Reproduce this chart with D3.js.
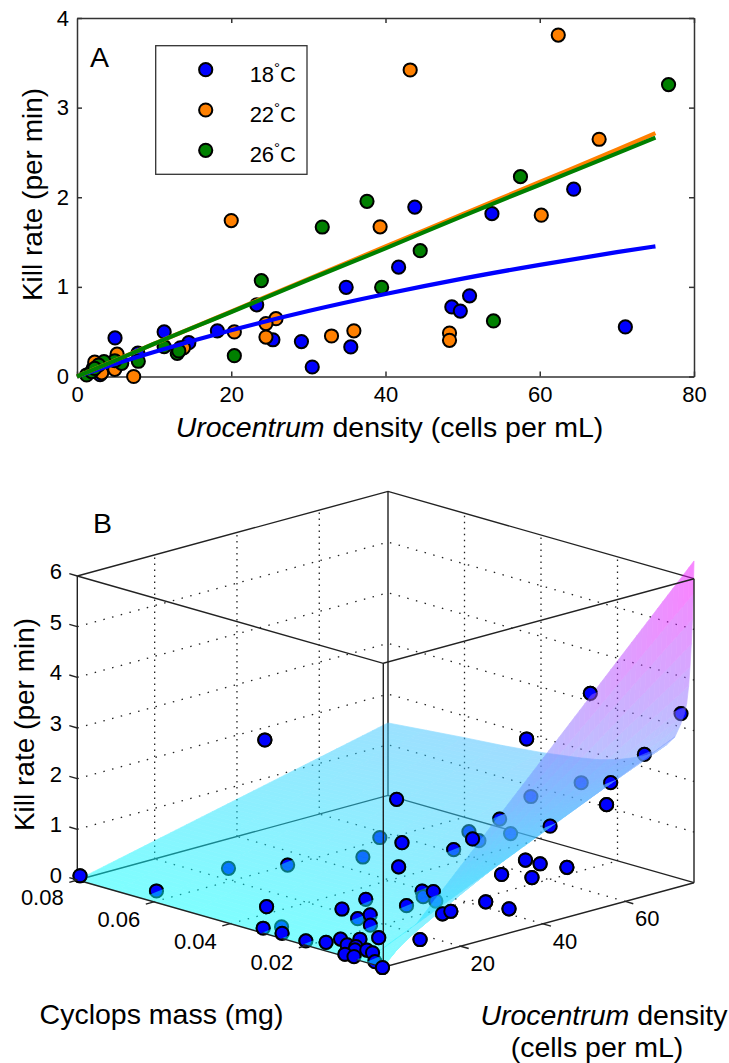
<!DOCTYPE html>
<html lang="en">
<head>
<meta charset="UTF-8">
<title>Kill rate vs Urocentrum density</title>
<style>
    body { margin: 0; background: #fff; }
    text { font-family: "Liberation Sans", Arial, sans-serif; fill: #000; }
    .axis text { font-size: 22px; }
    .axis path, .axis line { stroke: #333; stroke-width: 1.5; }
    .title { font-size: 28.5px; }
    .ytitle { font-size: 28px; }
    .box { stroke: #222; stroke-width: 1.4; fill: none; }
    .grid { stroke: #222; stroke-width: 1.3; fill: none; }
    .dot { stroke: #000; stroke-width: 2; }
</style>
</head>
<body>
<svg id="chart" width="729" height="1063"></svg>
<script src="https://d3js.org/d3.v7.min.js"></script>
<script>
    // Panel A: points per temperature
    const blueDensity = [4.93, 11.3, 14.5, 13.4, 18.2, 25.4, 29.1, 30.5, 34.9, 35.5, 3.0, 7.9, 2.1, 23.3, 41.7, 48.6, 49.7, 50.9, 71.1, 43.8, 53.8, 64.4];
    const blueKill = [0.43, 0.497, 0.377, 0.32, 0.51, 0.41, 0.39, 0.106, 0.995, 0.33, 0.02, 0.26, 0.09, 0.80, 1.22, 0.776, 0.73, 0.90, 0.553, 1.89, 1.817, 2.09];
    const orangeDensity = [20, 43.2, 62.4, 67.7, 60.2, 39.3, 48.3, 48.3, 35.9, 33, 25.8, 24.5, 24.5, 20.4, 7.35, 5.2, 4.9, 2.3, 3.2, 13.8];
    const orangeKill = [1.74, 3.42, 3.81, 2.647, 1.80, 1.67, 0.485, 0.404, 0.51, 0.452, 0.645, 0.59, 0.44, 0.497, 0.0, 0.25, 0.08, 0.16, 0.04, 0.32];
    const greenDensity = [76.7, 57.5, 37.6, 31.8, 23.9, 20.4, 11.3, 13, 13.2, 7.95, 39.5, 44.5, 54, 5.8, 4.9, 3.5, 2.8, 1.25, 1.9, 2.3];
    const greenKill = [3.257, 2.23, 1.955, 1.668, 1.07, 0.232, 0.333, 0.258, 0.285, 0.17, 0.995, 1.404, 0.62, 0.147, 0.176, 0.165, 0.128, 0.017, 0.054, 0.09];

    // Panel A: fitted curves, read at these densities
    const fitDensity = [0, 5, 10, 20, 30, 40, 50, 60, 70, 75];
    const blueFit = [0, 0.142, 0.274, 0.516, 0.73, 0.92, 1.092, 1.246, 1.387, 1.452];
    const orangeFit = [0, 0.183, 0.365, 0.725, 1.09, 1.45, 1.81, 2.17, 2.53, 2.715];
    const greenFit = [0, 0.18, 0.365, 0.72, 1.08, 1.43, 1.79, 2.14, 2.49, 2.665];

    const temperatures = ["18", "22", "26"];
    const tempColors = ["#0000ff", "#ff8000", "#008000"];

    // Panel B: points
    const massB = [0.0795, 0.0607, 0.0607, 0.0504, 0.0289, 0.0331, 0.0327, 0.0281, 0.0284, 0.0211, 0.0169, 0.0250, 0.0194, 0.0220, 0.0144, 0.0152, 0.0330, 0.0233, 0.0144, 0.0116, 0.0102, 0.0083, 0.0092, 0.0087, 0.0096, 0.0083, 0.0083, 0.0082, 0.0037, 0, 0.0374, 0.0147, 0.0518, 0.0227, 0.0313, 0.0198, 0.0075, 0.0081, 0.0132, 0.0180, 0.0318, 0.0118, 0.0140, 0.0137, 0.0151, 0.0056, 0.0072, 0.0098, 0.0007, 0.0049, 0.0148, 0.0100, 0.0117, 0.0087, 0.0050, 0.0005, 0.0075, 0.0115, 0.0035, 0.0035, 0.0083, 0.0079, 0.0768];
    const densB = [1.4, 2.5, 20.0, 24.8, 23.1, 3.6, 2.4, 2.6, 3.0, 2.0, 3.0, 14.4, 13.0, 17.4, 11.4, 12.2, 35.6, 28.5, 4.2, 3.2, 5.0, 7.8, 3.1, 2.4, 0.8, 1.8, 4.9, 6.2, 2.6, 1.0, 39.2, 19.4, 48.5, 39.4, 51.1, 41.3, 31.4, 37.0, 44.4, 53.8, 71.3, 21.6, 23.9, 26.1, 28.0, 20.8, 24.3, 35.2, 32.4, 34.5, 49.5, 48.6, 48.2, 53.9, 60.1, 10.6, 43.0, 62.2, 76.8, 67.9, 57.0, 63.8, 43.8];
    const killB = [0.09, 0.17, 0.23, 0.41, 1.07, 0.43, 0.04, 0.16, 0.02, 0.05, 0.09, 0.32, 0.28, 0.51, 0.50, 0.26, 0.51, 0.11, 0.18, 0.15, 0.25, 0.26, 0.17, 0.13, 0.06, 0.02, 0.08, 0.00, 0.00, 0.00, 1.67, 1.74, 0.40, 0.99, 0.90, 1.22, 1.67, 1.96, 1.40, 1.82, 0.55, 0.80, 0.59, 0.65, 0.39, 0.50, 0.44, 0.33, 0.45, 0.99, 0.73, 0.78, 0.48, 0.62, 1.80, 0.33, 3.42, 3.81, 3.26, 2.65, 2.23, 2.09, 1.89];
    // how much of each point sits behind the surface (0 none, 1 all)
    const coverB = [0, 0.45, 1, 0.7, 1, 0, 0.25, 1, 0.2, 0.35, 0, 0, 0.55, 0.3, 0.25, 0.4, 0, 0.5, 0, 0, 0, 0, 0, 0, 0, 0.25, 0, 0.15, 0.7, 0, 0, 0, 1, 0.5, 1, 0, 1, 0.7, 1, 1, 0.55, 0.6, 1, 0.2, 1, 0, 0, 0, 0, 0, 0, 0, 0, 0, 0, 0, 0, 0.4, 0.8, 0.55, 1, 0.55, 0];

    // Panel B: surface, kill rate at the top density for each mass
    const surfMass = [0.08, 0.07, 0.06, 0.05, 0.04, 0.03, 0.025, 0.02, 0.0163, 0.0125, 0.0094, 0.007, 0.005, 0.0035, 0.0025, 0.0019, 0.0014, 0.00104, 0.0007, 0.0004, 0.0002, 0];
    const surfEdgeKill = [1.43, 1.50, 1.57, 1.63, 1.71, 1.82, 1.89, 2.0, 2.11, 2.24, 2.41, 2.58, 2.77, 3.05, 3.28, 3.5, 3.85, 4.24, 4.7, 5.2, 5.7, 6.35];

    const svg = d3.select("#chart");
    const r = 6.6;

    // ---- Panel A ----
    const xA = d3.scaleLinear().domain([0, 80]).range([77, 694]);
    const yA = d3.scaleLinear().domain([0, 4]).range([376.5, 18]);
    const panelA = svg.append("g");

    panelA.append("g").attr("class", "axis").attr("transform", "translate(0,376.5)")
        .call(d3.axisBottom(xA).tickValues([0, 20, 40, 60, 80]).tickSize(-5).tickSizeOuter(0).tickPadding(10));
    panelA.append("g").attr("class", "axis").attr("transform", "translate(0,18)")
        .call(d3.axisTop(xA).tickValues([20, 40, 60, 80]).tickSize(-5).tickSizeOuter(0).tickFormat(""));
    panelA.append("g").attr("class", "axis").attr("transform", "translate(77,0)")
        .call(d3.axisLeft(yA).ticks(4).tickSize(-5).tickSizeOuter(0).tickPadding(8).tickFormat(d3.format("d")));
    panelA.append("g").attr("class", "axis").attr("transform", "translate(694,0)")
        .call(d3.axisRight(yA).ticks(4).tickSize(-5).tickSizeOuter(0).tickFormat(""));

    [[blueDensity, blueKill], [orangeDensity, orangeKill], [greenDensity, greenKill]].forEach(([xs, ys], s) => {
        panelA.append("g").selectAll("circle").data(xs).join("circle")
            .attr("class", "dot")
            .attr("cx", d => xA(d))
            .attr("cy", (d, i) => yA(ys[i]))
            .attr("r", r)
            .attr("fill", tempColors[s]);
    });

    const fitLine = d3.line().x((d, i) => xA(fitDensity[i])).y(d => yA(d)).curve(d3.curveMonotoneX);
    [blueFit, orangeFit, greenFit].forEach((fit, s) => {
        panelA.append("path").attr("d", fitLine(fit))
            .attr("fill", "none").attr("stroke", tempColors[s]).attr("stroke-width", 4.2);
    });

    // legend
    const legendY = d3.scalePoint().domain(temperatures).range([69.7, 150.3]);
    panelA.append("rect").attr("x", 155.7).attr("y", 45.7).attr("width", 151.3).attr("height", 128.6)
        .attr("fill", "#fff").attr("stroke", "#333").attr("stroke-width", 1.3);
    temperatures.forEach((t, i) => {
        panelA.append("circle").attr("class", "dot").attr("cx", 205.7).attr("cy", legendY(t)).attr("r", r).attr("fill", tempColors[i]);
        const label = panelA.append("text").attr("x", 296).attr("y", legendY(t) + 12).attr("text-anchor", "end").attr("font-size", 22);
        label.append("tspan").text(t);
        label.append("tspan").attr("font-size", 15).attr("dy", -9).text("°");
        label.append("tspan").attr("dy", 9).text("C");
    });

    panelA.append("text").attr("class", "title").attr("x", 90).attr("y", 66.7).text("A");
    panelA.append("text").attr("class", "ytitle").attr("transform", "translate(41.5,194.5) rotate(-90)")
        .attr("text-anchor", "middle").text("Kill rate (per min)");
    const xTitleA = panelA.append("text").attr("class", "title").attr("x", 389.5).attr("y", 437).attr("text-anchor", "middle");
    xTitleA.append("tspan").attr("font-style", "italic").text("Urocentrum");
    xTitleA.append("tspan").text(" density (cells per mL)");

    // ---- Panel B ----
    const massDomain = [0, 0.08], densDomain = [1.2, 76.7], killDomain = [0, 6];
    const massX = d3.scaleLinear().domain(massDomain).range([0, -306]);
    const massY = d3.scaleLinear().domain(massDomain).range([0, -87.3]);
    const densX = d3.scaleLinear().domain(densDomain).range([0, 310.7]);
    const densY = d3.scaleLinear().domain(densDomain).range([0, -84.6]);
    const killY = d3.scaleLinear().domain(killDomain).range([0, -304]);
    const project = (m, d, k) => [383.3 + massX(m) + densX(d), 967.3 + massY(m) + densY(d) + killY(k)];

    const seg = d3.line();
    const [dLo, dHi] = densDomain, mHi = massDomain[1], kHi = killDomain[1];
    const panelB = svg.append("g");

    const drawSegs = (g, cls, segs) => g.append("g").selectAll("path").data(segs).join("path")
        .attr("class", cls).attr("d", d => seg(d.map(p => project(...p))));

    // dotted grid on the floor and the two back walls
    const massTicks = [0.02, 0.04, 0.06], densTicks = [20, 40, 60], killTicks = [1, 2, 3, 4, 5];
    drawSegs(panelB, "grid", [
        ...killTicks.map(k => [[mHi, dLo, k], [mHi, dHi, k], [0, dHi, k]]),
        ...massTicks.map(m => [[m, dLo, 0], [m, dHi, 0]]),
        ...densTicks.map(d => [[0, d, 0], [mHi, d, 0]])
    ]).attr("stroke-dasharray", "1.5 7.5");
    drawSegs(panelB, "grid", [
        ...densTicks.map(d => [[mHi, d, 0], [mHi, d, kHi]]),
        ...massTicks.map(m => [[m, dHi, 0], [m, dHi, kHi]])
    ]).attr("stroke-dasharray", "1.5 4.5");

    // back edges of the box
    drawSegs(panelB, "box", [
        [[mHi, dLo, 0], [mHi, dHi, 0], [0, dHi, 0]],
        [[mHi, dHi, 0], [mHi, dHi, kHi]],
        [[mHi, dLo, kHi], [mHi, dHi, kHi], [0, dHi, kHi]]
    ]);

    // points, all of them go under the surface first
    const dots = massB.map((m, i) => {
        const [cx, cy] = project(m, densB[i], killB[i]);
        return { cx, cy, cover: coverB[i], i };
    });
    panelB.append("g").selectAll("circle").data(dots).join("circle")
        .attr("class", "dot").attr("cx", d => d.cx).attr("cy", d => d.cy).attr("r", r).attr("fill", "#0000ff");

    // surface is a fan of strips, it folds back over itself below mass 0.005
    const coolColor = d3.scaleLinear().domain([0, 6.35]).range(["#00ffff", "#ff00ff"]);
    const densSteps = d3.range(0, 61).map(j => dLo + (dHi - dLo) * j / 60);
    const surfKill = (i, d) => surfEdgeKill[i] * (d - dLo) / (dHi - dLo);
    const foldAt = surfMass.indexOf(0.005);
    const strips = (from, to) => {
        const out = [];
        for (let i = from; i < to; i++) {
            for (let j = 0; j < densSteps.length - 1; j++) {
                const d0 = densSteps[j], d1 = densSteps[j + 1];
                out.push({
                    pts: [
                        project(surfMass[i], d0, surfKill(i, d0)),
                        project(surfMass[i + 1], d0, surfKill(i + 1, d0)),
                        project(surfMass[i + 1], d1, surfKill(i + 1, d1)),
                        project(surfMass[i], d1, surfKill(i, d1))
                    ],
                    k: (surfKill(i, d0) + surfKill(i + 1, d1)) / 2
                });
            }
        }
        return out;
    };
    [[0, foldAt], [foldAt, surfMass.length - 1]].forEach(([from, to]) => {
        panelB.append("g").attr("opacity", 0.5).selectAll("path").data(strips(from, to)).join("path")
            .attr("d", d => seg(d.pts) + "Z")
            .attr("fill", d => coolColor(d.k))
            .attr("stroke", d => coolColor(d.k))
            .attr("stroke-width", 0.7);
    });

    // front edges of the box
    drawSegs(panelB, "box", [
        [[mHi, dLo, 0], [0, dLo, 0], [0, dHi, 0]],
        [[mHi, dLo, 0], [mHi, dLo, kHi]],
        [[0, dLo, 0], [0, dLo, kHi]],
        [[0, dHi, 0], [0, dHi, kHi]],
        [[mHi, dLo, kHi], [0, dLo, kHi], [0, dHi, kHi]]
    ]);

    // the parts of the points that are in front of the surface
    const defs = svg.append("defs");
    const front = dots.filter(d => d.cover < 1);
    front.filter(d => d.cover > 0).forEach(d => {
        defs.append("clipPath").attr("id", "cut" + d.i).append("rect")
            .attr("x", d.cx - 20).attr("y", d.cy - 40 + 7.6 * (1 - 2 * d.cover))
            .attr("width", 40).attr("height", 40)
            .attr("transform", `rotate(-22 ${d.cx} ${d.cy})`);
    });
    panelB.append("g").selectAll("circle").data(front).join("circle")
        .attr("class", "dot").attr("cx", d => d.cx).attr("cy", d => d.cy).attr("r", r).attr("fill", "#0000ff")
        .attr("clip-path", d => d.cover > 0 ? `url(#cut${d.i})` : null);

    // ticks and tick labels
    const tickKills = d3.range(0, 7);
    panelB.append("g").selectAll("path").data(tickKills).join("path").attr("class", "box")
        .attr("d", k => { const [x, y] = project(mHi, dLo, k); return seg([[x, y], [x - 8, y - 2.3]]); });
    panelB.append("g").selectAll("text").data(tickKills).join("text")
        .attr("x", 62).attr("y", k => project(mHi, dLo, k)[1] - 5).attr("dy", "0.36em")
        .attr("text-anchor", "end").attr("font-size", 22).text(k => k);

    const tickMass = [0.02, 0.04, 0.06, 0.08];
    panelB.append("g").selectAll("path").data(tickMass).join("path").attr("class", "box")
        .attr("d", m => { const [x, y] = project(m, dLo, 0); return seg([[x, y], [x - 8, y + 2.3]]); });
    panelB.append("g").selectAll("text").data(tickMass).join("text")
        .attr("x", m => project(m, dLo, 0)[0] - 35).attr("y", m => project(m, dLo, 0)[1] + 17).attr("dy", "0.36em")
        .attr("text-anchor", "middle").attr("font-size", 22).text(d3.format(".2f"));

    panelB.append("g").selectAll("path").data(densTicks).join("path").attr("class", "box")
        .attr("d", d => { const [x, y] = project(0, d, 0); return seg([[x, y], [x + 8, y + 2.3]]); });
    panelB.append("g").selectAll("text").data(densTicks).join("text")
        .attr("x", d => project(0, d, 0)[0] + 22).attr("y", d => project(0, d, 0)[1] + 17).attr("dy", "0.36em")
        .attr("text-anchor", "middle").attr("font-size", 22).text(d => d);

    // labels
    panelB.append("text").attr("class", "title").attr("x", 93).attr("y", 533.3).text("B");
    panelB.append("text").attr("class", "ytitle").attr("transform", "translate(34,724.5) rotate(-90)")
        .attr("text-anchor", "middle").text("Kill rate (per min)");
    panelB.append("text").attr("class", "title").attr("x", 161.5).attr("y", 1024).attr("text-anchor", "middle").text("Cyclops mass (mg)");
    const xTitleB = panelB.append("text").attr("class", "title").attr("x", 604).attr("y", 1025).attr("text-anchor", "middle");
    xTitleB.append("tspan").attr("font-style", "italic").text("Urocentrum");
    xTitleB.append("tspan").text(" density");
    panelB.append("text").attr("class", "title").attr("x", 597).attr("y", 1056.5).attr("text-anchor", "middle").text("(cells per mL)");
</script>
</body>
</html>
